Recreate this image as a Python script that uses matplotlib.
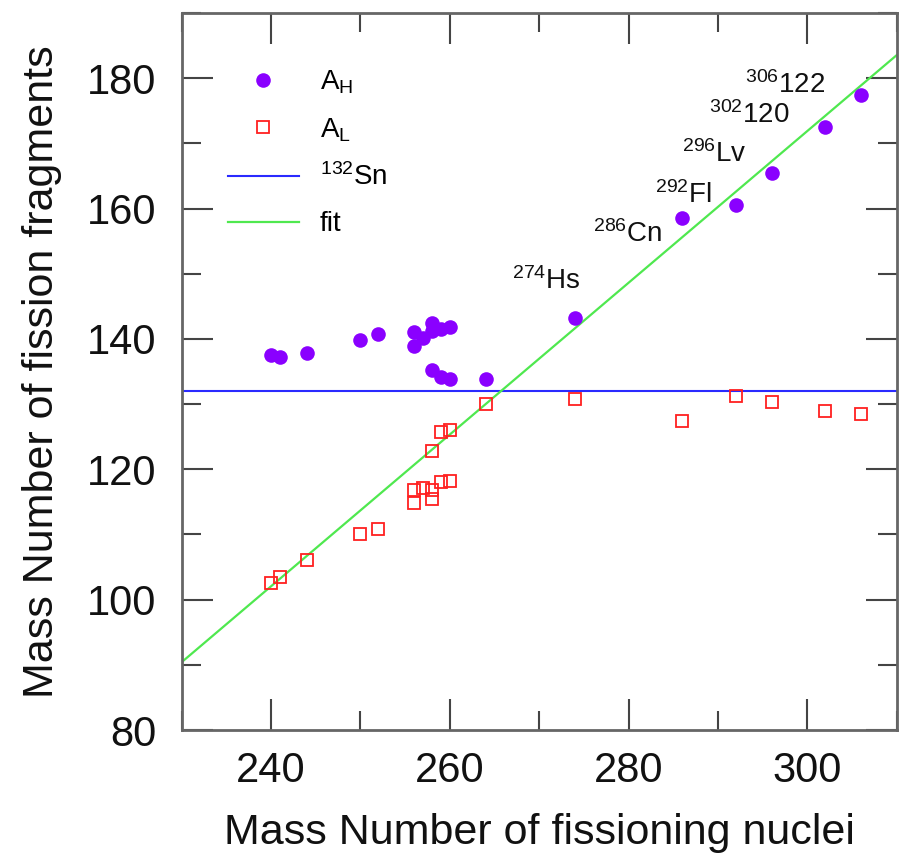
import matplotlib

matplotlib.use("Agg")
import matplotlib.pyplot as plt
import numpy as np
from matplotlib.ticker import MultipleLocator

plt.rcParams["font.family"] = ["Liberation Sans", "DejaVu Sans"]
plt.rcParams["mathtext.fontset"] = "custom"
plt.rcParams["mathtext.rm"] = "Liberation Sans"
plt.rcParams["mathtext.it"] = "Liberation Sans:italic"
plt.rcParams["mathtext.bf"] = "Liberation Sans:bold"

# heavy fragment mass vs fissioning nucleus mass
heavy_parent = [240, 241, 244, 250, 252, 256, 256, 257, 258, 258, 259, 260,
                258, 259, 260, 264, 274, 286, 292, 296, 302, 306]
heavy_mass = [137.5, 137.3, 137.8, 139.8, 140.8, 141.1, 138.9, 140.1, 142.5, 141.2,
              141.5, 141.9, 135.2, 134.2, 133.8, 133.8, 143.2, 158.5, 160.6, 165.5,
              172.5, 177.4]

# light fragment mass
light_parent = [240, 241, 244, 250, 252, 256, 256, 257, 258, 258, 259, 260,
                258, 259, 260, 264, 274, 286, 292, 296, 302, 306]
light_mass = [102.5, 103.5, 106.1, 110.0, 110.9, 116.8, 114.9, 117.2, 116.8, 115.5,
              118.1, 118.2, 122.8, 125.7, 126.1, 130.0, 130.8, 127.4, 131.2, 130.3,
              128.9, 128.5]

sn_mass = 132
fit_slope = 1.164
fit_intercept = -177.3

label_names = [r"$^{274}$Hs", r"$^{286}$Cn", r"$^{292}$Fl", r"$^{296}$Lv",
               r"$^{302}$120", r"$^{306}$122"]
label_x = [267.0, 276.0, 283.0, 286.0, 289.0, 293.0]
label_y = [147.6, 154.8, 160.8, 167.1, 173.1, 177.7]

fig = plt.figure(figsize=(9.04, 8.65), dpi=100)
ax = fig.add_axes([0.201, 0.156, 0.791, 0.829])

ax.plot(heavy_parent, heavy_mass, "o", color="#8a00ff", markersize=10.5,
        markeredgewidth=0, label=r"A$_\mathrm{H}$", zorder=3)
ax.plot(light_parent, light_mass, "s", color="#ff2020", markersize=9,
        markerfacecolor="none", markeredgewidth=1.3, label=r"A$_\mathrm{L}$", zorder=3)
ax.axhline(sn_mass, color="#2a2aff", linewidth=1.5, label=r"$^{132}$Sn", zorder=2)
fit_x = np.array([230.0, 310.0])
ax.plot(fit_x, fit_slope * fit_x + fit_intercept, color="#4fe84f", linewidth=1.6,
        label="fit", zorder=2)

for name, x, y in zip(label_names, label_x, label_y):
    ax.text(x, y, name, fontsize=20, ha="left", va="baseline", color="#111111")

ax.set_xlim(230, 310)
ax.set_ylim(80, 190)
ax.xaxis.set_major_locator(MultipleLocator(20))
ax.xaxis.set_minor_locator(MultipleLocator(10))
ax.yaxis.set_major_locator(MultipleLocator(20))
ax.yaxis.set_minor_locator(MultipleLocator(10))
ax.tick_params(which="both", direction="in", top=True, right=True,
               color="#444444", width=1.5, labelsize=30, labelcolor="#111111")
ax.tick_params(which="major", length=22)
ax.tick_params(which="minor", length=14)
ax.tick_params(axis="x", which="major", pad=15)
ax.tick_params(axis="y", which="major", pad=18)
for spine in ax.spines.values():
    spine.set_color("#666666")
    spine.set_linewidth(2)

ax.set_xlabel("Mass Number of fissioning nuclei", fontsize=31, labelpad=16,
              color="#111111")
ax.set_ylabel("Mass Number of fission fragments", fontsize=31, labelpad=18,
              color="#111111")

ax.legend(loc="upper left", bbox_to_anchor=(-0.011, 0.998), frameon=False, fontsize=20,
          handlelength=2.55, handletextpad=0.75, labelspacing=0.72, borderpad=1.2,
          borderaxespad=0.75, markerscale=1.0, numpoints=1)

fig.savefig("out.png", dpi=100)
